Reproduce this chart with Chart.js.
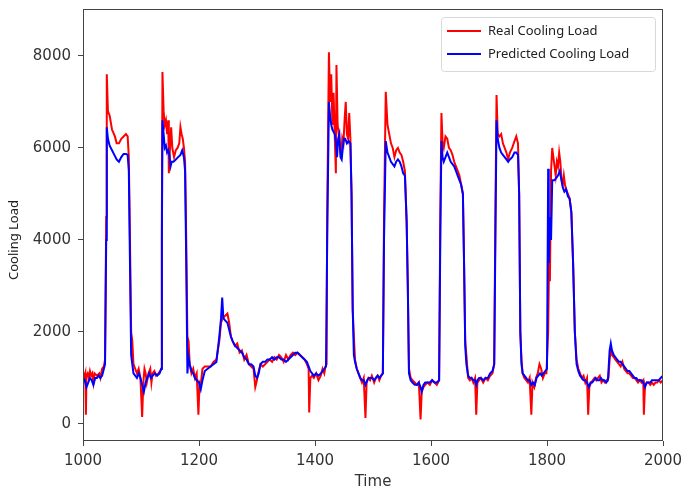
<!DOCTYPE html>
<html>
<head>
<meta charset="utf-8">
<script src="https://cdn.jsdelivr.net/npm/chart.js@4.4.0/dist/chart.umd.min.js"></script>
<style>
  body { margin: 0; background: #fff; }
  #wrap { width: 684px; height: 493px; }
</style>
</head>
<body>
<div id="wrap"><canvas id="myChart"></canvas></div>
<script>
// Real cooling load (time, value)
const realX = [1000,1002,1004,1005,1006,1008,1010,1012,1014,1016,1018,1020,1024,1028,1030,1033,1036,1038,1040,1041,1043,1046,1050,1055,1058,1062,1066,1070,1074,1077,1079,1081,1083,1085,1087,1090,1093,1096,1099,1102,1104,1106,1108,1110,1113,1116,1118,1120,1123,1126,1130,1133,1135,1136,1137,1139,1141,1143,1145,1147,1148,1150,1152,1154,1157,1160,1163,1166,1168,1170,1172,1174,1176,1178,1180,1182,1184,1187,1190,1193,1196,1199,1201,1203,1206,1210,1215,1220,1225,1230,1235,1238,1241,1245,1249,1252,1255,1258,1262,1266,1270,1274,1278,1282,1286,1290,1294,1297,1299,1302,1306,1310,1314,1318,1322,1326,1330,1334,1338,1342,1346,1350,1354,1358,1362,1366,1370,1374,1378,1382,1386,1389,1390,1392,1395,1398,1402,1406,1410,1413,1416,1418,1420,1421,1424,1426,1428,1430,1432,1434,1436,1437,1439,1441,1443,1445,1447,1449,1451,1453,1455,1457,1459,1461,1463,1465,1467,1469,1472,1475,1478,1481,1484,1487,1489,1492,1495,1498,1502,1505,1508,1511,1514,1517,1519,1522,1525,1528,1531,1534,1537,1540,1543,1546,1549,1552,1555,1558,1560,1562,1565,1568,1572,1576,1579,1582,1584,1587,1590,1594,1598,1602,1606,1610,1614,1616,1618,1620,1622,1625,1628,1631,1634,1637,1640,1643,1646,1649,1652,1655,1657,1659,1661,1664,1667,1670,1673,1676,1678,1680,1683,1686,1690,1694,1698,1702,1706,1709,1711,1713,1715,1718,1721,1724,1727,1730,1733,1736,1740,1744,1747,1750,1752,1754,1756,1758,1761,1764,1767,1770,1773,1775,1778,1781,1784,1787,1790,1793,1796,1799,1802,1804,1805,1807,1809,1811,1813,1815,1817,1819,1821,1823,1825,1827,1829,1831,1833,1836,1839,1842,1845,1848,1851,1854,1857,1860,1863,1866,1869,1871,1873,1876,1879,1882,1885,1888,1891,1894,1897,1900,1903,1906,1908,1910,1912,1915,1918,1921,1924,1927,1930,1933,1936,1939,1942,1945,1948,1951,1954,1957,1960,1963,1966,1967,1969,1972,1975,1978,1981,1984,1987,1990,1993,1996,2000];
const realY = [1150,1000,1100,200,1050,1100,1000,1150,1050,1100,900,1100,1050,1100,1000,1200,1250,1400,4500,7600,6800,6700,6400,6250,6100,6100,6200,6250,6300,6250,5800,4000,2000,1800,1300,1200,1100,1200,1000,150,900,1200,1100,900,1100,1200,900,1100,1150,1050,1100,1150,1200,4500,7650,6800,6500,6600,6300,6600,5450,6000,6450,6000,5800,5950,6000,6100,6450,6300,6200,6000,5700,4000,1900,1800,1300,1100,1200,1000,1100,200,900,850,1200,1250,1250,1250,1350,1400,1800,2200,2300,2350,2400,2200,1900,1800,1700,1750,1550,1600,1400,1500,1300,1250,1200,800,900,1100,1300,1250,1300,1350,1400,1350,1450,1400,1500,1450,1350,1500,1400,1500,1550,1500,1550,1500,1450,1400,1300,1200,250,1000,1050,1000,1100,950,1050,1200,1100,1250,1300,4500,8080,7000,7600,6500,7200,6300,5450,7800,6500,6300,6000,5800,6200,6100,6600,7000,6300,6200,6760,6200,5000,2500,1900,1400,1200,1100,1000,900,1000,130,900,1000,950,1050,900,1000,1050,950,1050,1100,4500,7220,6500,6300,6100,6000,5800,5950,6000,5900,5850,5700,5500,4400,3000,1200,1000,950,900,850,900,100,700,800,850,900,850,950,900,850,950,4500,6760,6100,6000,6250,6200,6000,5950,5850,5700,5600,5500,5400,5200,5000,3500,1800,1500,1000,950,1000,900,1000,200,900,950,1000,900,1000,950,1050,1100,1300,4500,7150,6300,6250,6300,6100,6000,5900,5750,5900,6000,6150,6250,6100,5000,2000,1400,1100,1000,950,900,1000,200,900,800,1000,1100,1300,1200,1000,1100,1100,2000,4000,3100,5500,6000,5800,5600,5400,5700,5600,5900,5700,5300,5200,5400,5200,5100,5000,4900,4600,3500,2000,1400,1200,1100,1000,1050,900,1000,200,800,900,950,1000,950,1000,1050,900,950,900,950,1000,1400,1650,1500,1450,1400,1350,1300,1250,1350,1200,1150,1100,1100,1050,1000,1000,950,900,950,900,950,200,850,900,900,850,900,850,900,900,950,900,950];

// Predicted cooling load (time, value)
const predX = [1000,1003,1006,1009,1012,1015,1018,1021,1024,1027,1030,1033,1036,1038,1040,1041,1043,1046,1050,1054,1058,1062,1066,1070,1074,1077,1079,1081,1083,1085,1087,1090,1093,1096,1099,1102,1105,1108,1111,1114,1117,1120,1124,1128,1132,1135,1136,1137,1139,1141,1143,1145,1147,1149,1151,1153,1156,1160,1164,1168,1171,1174,1176,1178,1180,1182,1184,1187,1190,1193,1196,1200,1203,1206,1210,1215,1220,1225,1230,1235,1238,1240,1242,1245,1249,1252,1255,1258,1262,1266,1270,1274,1278,1282,1286,1290,1294,1297,1300,1303,1306,1310,1314,1318,1322,1326,1330,1334,1338,1342,1346,1350,1354,1358,1362,1366,1370,1374,1378,1382,1386,1389,1392,1395,1398,1402,1406,1410,1413,1416,1419,1421,1424,1426,1428,1430,1432,1434,1436,1438,1440,1442,1444,1446,1448,1450,1452,1455,1458,1461,1463,1465,1467,1469,1472,1475,1478,1481,1484,1487,1490,1493,1496,1499,1502,1505,1508,1511,1514,1517,1519,1522,1525,1528,1531,1534,1537,1540,1543,1546,1549,1552,1555,1558,1560,1562,1565,1568,1572,1576,1579,1582,1584,1587,1590,1594,1598,1602,1606,1610,1614,1616,1618,1620,1622,1625,1628,1631,1634,1637,1640,1643,1646,1649,1652,1655,1657,1659,1661,1664,1667,1670,1673,1676,1678,1680,1683,1686,1690,1694,1698,1702,1706,1709,1711,1713,1715,1718,1721,1724,1727,1730,1733,1736,1740,1744,1747,1750,1752,1754,1756,1758,1761,1764,1767,1770,1773,1776,1779,1782,1785,1788,1791,1794,1797,1800,1802,1803,1805,1807,1809,1811,1813,1816,1819,1822,1825,1827,1830,1833,1836,1839,1842,1845,1848,1851,1854,1857,1860,1863,1866,1869,1872,1875,1878,1881,1884,1887,1890,1893,1896,1899,1902,1905,1908,1910,1912,1915,1918,1921,1924,1927,1930,1933,1936,1939,1942,1945,1948,1951,1954,1957,1960,1963,1966,1969,1972,1975,1978,1981,1984,1987,1990,1993,1996,2000];
const predY = [1000,950,800,900,1000,950,850,1000,1000,1050,1000,1050,1200,1300,4000,6450,6200,6050,5950,5850,5750,5700,5800,5870,5870,5850,5500,3500,1500,1300,1100,1050,1000,1100,1000,850,700,900,1000,1100,1000,1050,1100,1050,1100,1200,4000,6600,6300,6000,6050,5900,5950,5850,5600,5700,5700,5750,5800,5850,5950,5800,5500,3500,1100,1450,1300,1150,1100,1000,950,900,750,950,1150,1200,1250,1300,1350,1900,2300,2750,2300,2250,2200,2050,1900,1800,1700,1650,1600,1550,1450,1400,1300,1300,1250,1050,1000,1100,1300,1350,1350,1400,1400,1450,1400,1450,1450,1400,1400,1350,1400,1450,1500,1550,1550,1500,1450,1400,1350,1250,1150,1100,1050,1100,1050,1100,1150,1200,1250,4000,7000,6700,6500,6400,6350,6300,6150,5800,6200,6300,5800,5750,6000,6200,6200,6100,6150,6100,5000,2500,1500,1350,1200,1100,1000,950,950,850,950,1000,1000,1000,950,1000,1050,1000,1050,1100,4000,6150,5900,5800,5700,5650,5600,5700,5750,5700,5600,5450,5400,4400,3000,1100,950,900,850,850,900,800,700,850,900,900,900,950,900,900,950,4000,6150,5800,5700,5800,5900,5800,5700,5650,5600,5500,5400,5300,5200,5000,3500,1700,1300,1050,1000,1000,950,950,850,950,1000,1000,950,1000,1000,1100,1150,1300,4000,6600,6200,6000,5900,5850,5800,5750,5700,5750,5800,5900,5900,5850,5000,2000,1300,1100,1050,1000,950,950,850,900,850,1000,1050,1100,1050,1100,1150,1200,5550,3500,4500,4000,5300,5300,5300,5350,5400,5500,5300,5150,5050,5100,4950,4900,4600,3500,2000,1300,1150,1050,1000,950,950,900,800,900,900,950,1000,950,950,1000,950,950,900,950,1600,1750,1600,1500,1450,1400,1350,1350,1300,1250,1200,1150,1150,1100,1050,1000,1000,950,950,950,900,800,900,900,900,950,950,950,950,950,1000,1050];

const seriesNames = ['Real Cooling Load', 'Predicted Cooling Load'];
const seriesColors = ['#ff0000', '#0000ff'];
const xTicks = [1000, 1200, 1400, 1600, 1800, 2000];
const yTicks = [0, 2000, 4000, 6000, 8000];

const toPoints = (xs, ys) => xs.map((x, i) => ({ x: x, y: ys[i] }));

// frame, y title and the legend box inside the plot
const extras = {
  id: 'extras',
  afterDraw(chart) {
    const { ctx, chartArea: a } = chart;
    ctx.save();
    ctx.strokeStyle = '#444';
    ctx.lineWidth = 1;
    ctx.strokeRect(a.left + 0.5, a.top + 0.5, a.right - a.left - 1, a.bottom - a.top - 1);

    ctx.fillStyle = '#222';
    ctx.font = '13px "Noto Sans"';
    ctx.textAlign = 'center';
    ctx.textBaseline = 'middle';
    ctx.translate(14, 240);
    ctx.rotate(-Math.PI / 2);
    ctx.fillText('Cooling Load', 0, 0);
    ctx.restore();

    ctx.save();
    ctx.beginPath();
    ctx.roundRect(441.5, 17.5, 214, 54, 3);
    ctx.fillStyle = 'rgba(255,255,255,0.8)';
    ctx.fill();
    ctx.strokeStyle = '#d8d8d8';
    ctx.stroke();
    ctx.font = '13px "Noto Sans"';
    ctx.textBaseline = 'middle';
    seriesNames.forEach((name, i) => {
      const y = 31 + i * 23;
      ctx.strokeStyle = seriesColors[i];
      ctx.lineWidth = 2;
      ctx.beginPath();
      ctx.moveTo(447, y);
      ctx.lineTo(481, y);
      ctx.stroke();
      ctx.fillStyle = '#222';
      ctx.fillText(name, 488, y);
    });
    ctx.restore();
  }
};

const ctx = document.getElementById('myChart').getContext('2d');
const myChart = new Chart(ctx, {
  type: 'line',
  data: {
    datasets: [{
      label: seriesNames[0],
      data: toPoints(realX, realY),
      borderColor: seriesColors[0],
      borderWidth: 2,
      pointRadius: 0,
      tension: 0,
      order: 1
    }, {
      label: seriesNames[1],
      data: toPoints(predX, predY),
      borderColor: seriesColors[1],
      borderWidth: 2,
      pointRadius: 0,
      tension: 0,
      order: 0
    }]
  },
  options: {
    responsive: true,
    maintainAspectRatio: false,
    animation: false,
    layout: { padding: { top: 9, right: 21, left: 0, bottom: 0 } },
    plugins: { legend: { display: false }, tooltip: { enabled: false } },
    scales: {
      x: {
        type: 'linear',
        min: 1000,
        max: 2000,
        afterBuildTicks: s => { s.ticks = xTicks.map(v => ({ value: v })); },
        afterFit: s => { s.height = 52; s.paddingLeft = 0; s.paddingRight = 0; },
        grid: { drawOnChartArea: false, tickLength: 5, color: '#444' },
        border: { display: false },
        ticks: { font: { family: 'DejaVu Sans', size: 15 }, color: '#333', padding: 6, maxRotation: 0, autoSkip: false, callback: v => String(v) },
        title: { display: true, text: 'Time', font: { family: 'DejaVu Sans', size: 15 }, color: '#333', padding: { top: 0, bottom: 2 } }
      },
      y: {
        type: 'linear',
        min: -370,
        max: 9020,
        afterBuildTicks: s => { s.ticks = yTicks.map(v => ({ value: v })); },
        afterFit: s => { s.width = 83; s.paddingTop = 0; s.paddingBottom = 0; },
        grid: { drawOnChartArea: false, tickLength: 5, color: '#444' },
        border: { display: false },
        ticks: { font: { family: 'DejaVu Sans', size: 15 }, color: '#333', padding: 7, callback: v => String(v) }
      }
    }
  },
  plugins: [extras]
});
</script>
</body>
</html>
